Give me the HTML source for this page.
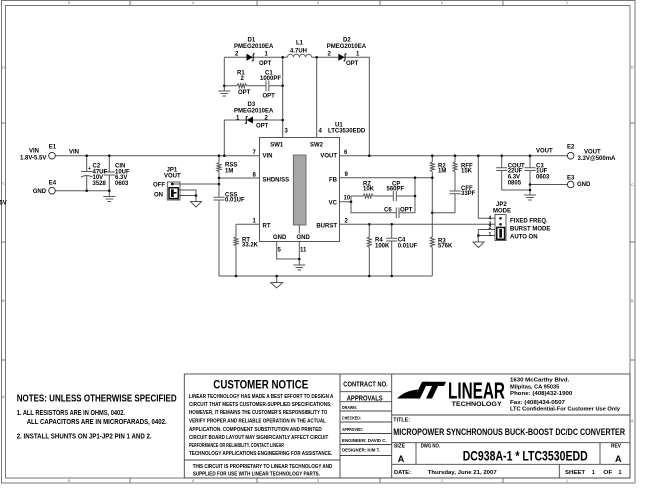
<!DOCTYPE html>
<html><head><meta charset="utf-8">
<style>
html,body{margin:0;padding:0;background:#fff;}
svg{display:block;}
text{font-family:"Liberation Sans",Arial,sans-serif;fill:#000;}
.s{font-size:6px;font-weight:bold;}
.t{font-size:3.6px;fill:#555;}
.b{font-weight:bold;}
.w{stroke:#555;stroke-width:1;fill:none;}
.k{stroke:#111;stroke-width:1.1;fill:none;}
</style></head><body>
<svg width="647" height="500" viewBox="0 0 647 500" xmlns="http://www.w3.org/2000/svg">
<rect width="647" height="500" fill="#fff"/>

<!-- border -->
<g stroke="#777" stroke-width="1" fill="none">
<rect x="1.5" y="0.5" width="633.5" height="482.5"/>
<rect x="5.5" y="5.5" width="624.5" height="472.5"/>
<path d="M130,0 V5.5 M257,0 V5.5 M380,0 V5.5 M503,0 V5.5 M130,478 V483 M257,478 V483 M380,478 V483 M503,478 V483 M1.5,123 H5.5 M1.5,242 H5.5 M1.5,360 H5.5 M630,123 H635 M630,242 H635 M630,360 H635"/>
</g>
<text class="t" x="68.3" y="4">5</text><text class="t" x="192" y="4">4</text><text class="t" x="317" y="4">3</text><text class="t" x="441" y="4">2</text><text class="t" x="566" y="4">1</text>
<text class="t" x="68.3" y="482">5</text><text class="t" x="192" y="482">4</text><text class="t" x="317" y="482">3</text><text class="t" x="441" y="482">2</text><text class="t" x="566" y="482">1</text>
<text class="t" x="2.3" y="68.5">D</text><text class="t" x="2.3" y="184.5">C</text><text class="t" x="2.3" y="302">B</text><text class="t" x="2.3" y="398">A</text>
<text class="t" x="631" y="68.5">D</text><text class="t" x="631" y="186">C</text><text class="t" x="631" y="302">B</text><text class="t" x="631" y="422">A</text>
<text class="s" x="-0.6" y="204.3">5V</text>

<!-- wires -->
<path class="w" d="
M55.3,155.7 H259.5
M55.3,190.7 H109.3
M86.7,155.7 V171.5 M86.7,175.6 V190.7
M81,171.5 H92.4
M109.3,155.7 V172 M109.3,175 V196
M103.8,172 H114.8 M103.8,175 H114.8
M103.3,196.5 H115.3 M105.5,199 H113.1 M107.5,201.5 H111.1
M172.3,184 H219
M174,190 H196 V201.5 M174,195.5 H196
M190.5,201.5 H201.5 L196,207 Z
M219,155.7 V162.5 M219,171.7 V197.3 M213.5,197.3 H224.5 M213.5,200 H224.5 M219,200 V276
M219,178 H259.5
M224.3,120 V155.7
M236,224.3 H259.5 M236,224.3 V236.7 M236,246 V276
M219,276 H432.3
M276.7,276 V282.5 M270.7,282.5 H282.7 L276.7,288 Z
M276.7,241.5 V259 H299.3 M299.3,241.5 V265
M293.3,265 H305.3 M295.5,267.5 H303.1 M297.5,270 H301.1
M299.3,225 V233.5
M282.7,57.3 V137.5 M316.7,57.3 V137.5
M224.3,57.3 H246.5 M253.3,57.3 H282.7
M224.3,57.3 V91
M218.3,91 H230.3 M220.5,93.5 H228.1 M222.5,96 H226.1
M282.7,57.3 H287.3
M287.3,57.3 a3.05,3 0 0 1 6.1,0 a3.05,3 0 0 1 6.1,0 a3.05,3 0 0 1 6.1,0 a3.05,3 0 0 1 6.1,0
M311.7,57.3 H338.3 M344.8,57.3 H369.3 V155.7
M224.3,120 H246.5 M253,120 H282.7
M224.3,85.7 H237 M246.7,85.7 H266 M268.8,85.7 H282.7
M266,80.5 V91 M268.8,80.5 V91
M339.5,155.7 H567.4
M339.5,177.7 H432.3
M339.5,201.7 H351 M351,196 V212.7 H396.3 M399,212.7 H415 V177.7
M351,196 H363 M373.3,196 H393.3 M396.3,196 H415
M393.3,191 V201 M396.3,191 V201
M396.3,207.5 V218 M399,207.5 V218
M339.5,224.3 H495
M369.3,224.3 V236.7 M369.3,247.3 V276
M391.7,224.3 V238.3 M391.7,241 V276 M386.2,238.3 H397.2 M386.2,241 H397.2
M432.3,155.7 V161.7 M432.3,171.7 V236.7 M432.3,247.3 V276
M432.3,212.7 H455 V193.7 M449.5,191 H460.5 M449.5,193.7 H460.5 M455,191 V171.7
M455,155.7 V161.7
M478.3,155.7 V218.3 H495
M478.3,229.5 H495 M478.3,235.5 H495 M478.3,229.5 V242
M473,242 H484 L478.5,247.5 Z
M501.7,155.7 V167.7 M501.7,170.5 V190 H530
M496.2,167.7 H507.2 M496.2,170.5 H507.2
M530,155.7 V167.7 M530,170.5 V195
M524.5,167.7 H535.5 M524.5,170.5 H535.5
M530,184.5 H567.4
M524,195 H536 M526.3,197.5 H533.7 M528.3,200 H531.7
"/>
<path class="w" d="M81,177 Q86.7,174 92.4,177"/>
<!-- resistors -->
<g class="w">
<polyline points="219,162.5 217,163.65 221,164.8 217,165.95 221,167.1 217,168.25 221,169.4 217,170.55 219,171.7"/>
<polyline points="236,236.7 234,237.86 238,239.03 234,240.19 238,241.35 234,242.51 238,243.68 234,244.84 236,246"/>
<polyline points="369.3,236.7 367.3,238.03 371.3,239.35 367.3,240.68 371.3,242 367.3,243.33 371.3,244.65 367.3,245.98 369.3,247.3"/>
<polyline points="432.3,161.7 430.3,162.95 434.3,164.2 430.3,165.45 434.3,166.7 430.3,167.95 434.3,169.2 430.3,170.45 432.3,171.7"/>
<polyline points="455,161.7 453,162.95 457,164.2 453,165.45 457,166.7 453,167.95 457,169.2 453,170.45 455,171.7"/>
<polyline points="432.3,236.7 430.3,238.03 434.3,239.35 430.3,240.68 434.3,242 430.3,243.33 434.3,244.65 430.3,245.98 432.3,247.3"/>
<polyline points="237,85.7 238.21,83.7 239.43,87.7 240.64,83.7 241.85,87.7 243.06,83.7 244.28,87.7 245.49,83.7 246.7,85.7"/>
<polyline points="363,196 364.29,194 365.58,198 366.86,194 368.15,198 369.44,194 370.73,198 372.01,194 373.3,196"/>
</g>
<!-- diodes -->
<path d="M246.5,53.8 L246.5,60.8 L253,57.3 Z" fill="#000"/>
<path class="k" d="M253.2,53.8 V60.8 M253.2,53.8 h1.5 M253.2,60.8 h-1.5"/>
<path d="M338.3,53.8 L338.3,60.8 L344.8,57.3 Z" fill="#000"/>
<path class="k" d="M345,53.8 V60.8 M345,53.8 h1.5 M345,60.8 h-1.5"/>
<path d="M253,116.5 L253,123.5 L246.5,120 Z" fill="#000"/>
<path class="k" d="M246.3,116.5 V123.5 M246.3,116.5 h1.5 M246.3,123.5 h-1.5"/>
<!-- terminals -->
<g fill="#fff" stroke="#222" stroke-width="0.9">
<circle cx="52" cy="155.7" r="3.3"/><circle cx="52" cy="190.7" r="3.3"/>
<circle cx="570.7" cy="155.7" r="3.3"/><circle cx="570.7" cy="184.5" r="3.3"/>
</g>
<!-- chip -->
<rect x="259.5" y="137.5" width="80" height="104" fill="none" stroke="#555" stroke-width="1"/>
<rect x="293.3" y="155" width="12.7" height="70" fill="#a6a6a6" stroke="#555" stroke-width="0.8"/>
<!-- JP1 -->
<rect x="167.3" y="182" width="12.7" height="18" fill="none" stroke="#333" stroke-width="0.8"/>
<rect x="168.3" y="187" width="10.7" height="12.3" fill="#111"/>
<rect x="169.8" y="188.5" width="7.7" height="9.3" fill="#fff"/>
<rect x="171" y="189.3" width="2.8" height="7.7" fill="#111"/>
<rect x="171" y="192" width="5.5" height="1.6" fill="#111"/>
<!-- JP2 -->
<rect x="495" y="214.5" width="11" height="26" fill="none" stroke="#333" stroke-width="0.8"/>
<rect x="496" y="226.7" width="9.3" height="13.3" fill="#111"/>
<rect x="497.5" y="228.2" width="6.3" height="10.3" fill="#fff"/>
<rect x="499.3" y="229" width="2.7" height="8.7" fill="#111"/>
<!-- junctions -->
<g fill="#111">
<circle cx="86.7" cy="155.7" r="1.3"/><circle cx="109.3" cy="155.7" r="1.3"/><circle cx="219" cy="155.7" r="1.3"/><circle cx="224.3" cy="155.7" r="1.3"/>
<circle cx="86.7" cy="190.7" r="1.3"/><circle cx="109.3" cy="190.7" r="1.3"/>
<circle cx="219" cy="178" r="1.3"/><circle cx="219" cy="184" r="1.3"/><circle cx="196" cy="195.5" r="1.3"/><circle cx="172.3" cy="184" r="1.4"/>
<circle cx="236" cy="276" r="1.3"/><circle cx="276.7" cy="276" r="1.3"/><circle cx="369.3" cy="276" r="1.3"/><circle cx="391.7" cy="276" r="1.3"/>
<circle cx="299.3" cy="259" r="1.3"/><circle cx="224.3" cy="85.7" r="1.3"/><circle cx="282.7" cy="85.7" r="1.3"/>
<circle cx="282.7" cy="57.3" r="1.3"/><circle cx="316.7" cy="57.3" r="1.3"/><circle cx="282.7" cy="120" r="1.3"/>
<circle cx="369.3" cy="155.7" r="1.3"/><circle cx="432.3" cy="155.7" r="1.3"/><circle cx="455" cy="155.7" r="1.3"/><circle cx="478.3" cy="155.7" r="1.3"/><circle cx="501.7" cy="155.7" r="1.3"/><circle cx="530" cy="155.7" r="1.3"/>
<circle cx="415" cy="177.7" r="1.3"/><circle cx="432.3" cy="177.7" r="1.3"/><circle cx="351" cy="201.7" r="1.3"/><circle cx="415" cy="196" r="1.3"/><circle cx="432.3" cy="212.7" r="1.3"/>
<circle cx="369.3" cy="224.3" r="1.3"/><circle cx="391.7" cy="224.3" r="1.3"/><circle cx="478.3" cy="235.5" r="1.3"/>
<circle cx="530" cy="184.5" r="1.3"/><circle cx="530" cy="190" r="1.3"/>
<circle cx="500.5" cy="218.3" r="1.3"/><circle cx="500.5" cy="224.3" r="1.3"/>
</g>

<!-- schematic labels -->
<text class="s" x="29" y="152.7">VIN</text>
<text class="s" x="20" y="159.3">1.8V-5.5V</text>
<text class="s" x="48.7" y="148.7">E1</text>
<text class="s" x="69" y="153.3">VIN</text>
<text class="s" x="48.7" y="184.5">E4</text>
<text class="s" x="32.7" y="192.8">GND</text>
<text class="s" x="88" y="170" style="font-size:5px">+</text>
<text class="s" x="92.5" y="167.7">C2</text><text class="s" x="92.5" y="173.3">47UF</text><text class="s" x="92.5" y="179">10V</text><text class="s" x="92.5" y="185">3528</text>
<text class="s" x="115" y="167.7">CIN</text><text class="s" x="115" y="173.3">10UF</text><text class="s" x="115" y="179">6.3V</text><text class="s" x="115" y="185">0603</text>
<text class="s" x="166.5" y="171.7">JP1</text><text class="s" x="164" y="177.7">VOUT</text>
<text class="s" x="153" y="186.7">OFF</text><text class="s" x="154" y="196.7">ON</text>
<text class="s" x="225" y="166.7">RSS</text><text class="s" x="225" y="172.3">1M</text>
<text class="s" x="225" y="196.7">CSS</text><text class="s" x="225" y="201.7">0.01UF</text>
<text class="s" x="242" y="241.3">RT</text><text class="s" x="242" y="246.7">33.2K</text>
<text class="s" x="252.5" y="154">7</text><text class="s" x="252.5" y="176.5">8</text><text class="s" x="252.5" y="222.5">1</text>
<text class="s" x="276.7" y="146.7" text-anchor="middle">SW1</text><text class="s" x="316.5" y="146.7" text-anchor="middle">SW2</text>
<text class="s" x="262.5" y="157.7">VIN</text><text class="s" x="337" y="157.7" text-anchor="end">VOUT</text>
<text class="s" x="262.5" y="181.7">SHDN/SS</text><text class="s" x="337" y="181.7" text-anchor="end">FB</text>
<text class="s" x="337" y="204.3" text-anchor="end">VC</text>
<text class="s" x="262.5" y="227.7">RT</text><text class="s" x="337" y="227.7" text-anchor="end">BURST</text>
<text class="s" x="273" y="239">GND</text><text class="s" x="296.5" y="239">GND</text>
<text class="s" x="277.5" y="251.5">5</text><text class="s" x="300" y="251.5">11</text>
<text class="s" x="284.5" y="132.7">3</text><text class="s" x="318.5" y="132.7">4</text>
<text class="s" x="335" y="126.7">U1</text><text class="s" x="328" y="132.7">LTC3530EDD</text>
<text class="s" x="344" y="154">6</text><text class="s" x="344.5" y="176">9</text><text class="s" x="343.5" y="199.5">10</text><text class="s" x="344.5" y="222.5">2</text>
<text class="s" x="247.5" y="41.7">D1</text><text class="s" x="234" y="48">PMEG2010EA</text>
<text class="s" x="235" y="55.7">2</text><text class="s" x="264.5" y="55.7">1</text><text class="s" x="259" y="65">OPT</text>
<text class="s" x="237" y="74.3">R1</text><text class="s" x="240.5" y="80">2</text><text class="s" x="238" y="94">OPT</text>
<text class="s" x="265" y="74.3">C1</text><text class="s" x="260" y="80">1000PF</text><text class="s" x="262.5" y="97.3">OPT</text>
<text class="s" x="296" y="44.3">L1</text><text class="s" x="290" y="52.7">4.7UH</text>
<text class="s" x="343" y="41.7">D2</text><text class="s" x="326.7" y="48">PMEG2010EA</text>
<text class="s" x="327.5" y="55.7">2</text><text class="s" x="356" y="55.7">1</text><text class="s" x="346" y="65">OPT</text>
<text class="s" x="247.5" y="106">D3</text><text class="s" x="234" y="112.3">PMEG2010EA</text>
<text class="s" x="236" y="119.3">1</text><text class="s" x="264.5" y="119.3">2</text><text class="s" x="256" y="127.7">OPT</text>
<text class="s" x="363" y="185.7">RZ</text><text class="s" x="363" y="190.7">10K</text>
<text class="s" x="392" y="185.7">CP</text><text class="s" x="386.5" y="190.7">560PF</text>
<text class="s" x="384" y="211.7">C6</text><text class="s" x="400" y="211.7">OPT</text>
<text class="s" x="375" y="241.7">R4</text><text class="s" x="375" y="247.3">100K</text>
<text class="s" x="397.7" y="241.7">C4</text><text class="s" x="397.7" y="247.3">0.01UF</text>
<text class="s" x="438" y="167.3">R2</text><text class="s" x="438" y="172.7">1M</text>
<text class="s" x="461" y="167.3">RFF</text><text class="s" x="461" y="172.7">15K</text>
<text class="s" x="461" y="190">CFF</text><text class="s" x="461" y="195">33PF</text>
<text class="s" x="438" y="242.3">R3</text><text class="s" x="438" y="247.7">576K</text>
<text class="s" x="496" y="206">JP2</text><text class="s" x="493" y="212.7">MODE</text>
<text class="s" x="488.5" y="219.5" style="font-size:5px">4</text><text class="s" x="488.5" y="225.3" style="font-size:5px">3</text><text class="s" x="488.5" y="229.2" style="font-size:5px">2</text><text class="s" x="488.5" y="236" style="font-size:5px">1</text>
<text class="s" x="510" y="222.3">FIXED FREQ.</text><text class="s" x="510" y="230.7">BURST MODE</text><text class="s" x="510" y="238.7">AUTO ON</text>
<text class="s" x="507.7" y="167.3">COUT</text><text class="s" x="507.7" y="172.7">22UF</text><text class="s" x="507.7" y="178.3">6.3V</text><text class="s" x="507.7" y="184.3">0805</text>
<text class="s" x="536" y="167.3">C3</text><text class="s" x="536" y="172.7">1UF</text><text class="s" x="536" y="178.3">0603</text>
<text class="s" x="536" y="152.7">VOUT</text>
<text class="s" x="567" y="148.3">E2</text><text class="s" x="584" y="153.3">VOUT</text><text class="s" x="577.5" y="160">3.3V@500mA</text>
<text class="s" x="567" y="179.3">E3</text><text class="s" x="577" y="186">GND</text>

<!-- notes -->
<text class="b" x="16.7" y="401.5" font-size="10.5" textLength="160" lengthAdjust="spacingAndGlyphs">NOTES:  UNLESS OTHERWISE SPECIFIED</text>
<text class="b" x="16.7" y="415" font-size="7" textLength="108.3" lengthAdjust="spacingAndGlyphs">1.  ALL RESISTORS ARE IN OHMS, 0402.</text>
<text class="b" x="26.7" y="424" font-size="7" textLength="140" lengthAdjust="spacingAndGlyphs">ALL CAPACITORS ARE IN MICROFARADS, 0402.</text>
<text class="b" x="16.7" y="438.7" font-size="7" textLength="135" lengthAdjust="spacingAndGlyphs">2.  INSTALL SHUNTS ON JP1-JP2 PIN 1 AND 2.</text>

<!-- customer notice & title block -->
<g stroke="#444" stroke-width="0.9" fill="none">
<rect x="184.3" y="374" width="445.7" height="104"/>
<path d="M184.3,460 H340 M340,374 V478 M391.7,374 V478
M340,391.7 H391.7 M340,401.7 H391.7 M340,411 H391.7 M340,422 H391.7 M340,433.5 H391.7 M340,444.5 H391.7 M340,455.5 H391.7
M391.7,415 H630 M391.7,442.7 H630 M391.7,464.3 H630
M416,442.7 V464.3 M600,442.7 V464.3 M559.3,464.3 V478"/>
</g>
<text class="b" x="213.3" y="388.5" font-size="11.5" textLength="95" lengthAdjust="spacingAndGlyphs">CUSTOMER NOTICE</text>
<g class="b" font-size="5">
<text x="189" y="397.8" textLength="144.3" lengthAdjust="spacingAndGlyphs">LINEAR TECHNOLOGY HAS MADE A BEST EFFORT TO DESIGN A</text>
<text x="189" y="405.9" textLength="142.7" lengthAdjust="spacingAndGlyphs">CIRCUIT THAT MEETS CUSTOMER-SUPPLIED SPECIFICATIONS;</text>
<text x="189" y="414.1" textLength="138.3" lengthAdjust="spacingAndGlyphs">HOWEVER, IT REMAINS THE CUSTOMER'S RESPONSIBILITY TO</text>
<text x="189" y="422.5" textLength="137" lengthAdjust="spacingAndGlyphs">VERIFY PROPER AND RELIABLE OPERATION IN THE ACTUAL</text>
<text x="189" y="430.8" textLength="132.7" lengthAdjust="spacingAndGlyphs">APPLICATION.  COMPONENT SUBSTITUTION AND PRINTED</text>
<text x="189" y="438.8" textLength="139.3" lengthAdjust="spacingAndGlyphs">CIRCUIT BOARD LAYOUT MAY SIGNIFICANTLY AFFECT CIRCUIT</text>
<text x="189" y="446.8" textLength="95" lengthAdjust="spacingAndGlyphs">PERFORMANCE OR RELIABILITY.  CONTACT LINEAR</text>
<text x="189" y="454.8" textLength="143.3" lengthAdjust="spacingAndGlyphs">TECHNOLOGY APPLICATIONS ENGINEERING FOR ASSISTANCE.</text>
<text x="192.7" y="467.8" textLength="139.6" lengthAdjust="spacingAndGlyphs">THIS CIRCUIT IS PROPRIETARY TO LINEAR TECHNOLOGY AND</text>
<text x="192.7" y="475.5" textLength="127.3" lengthAdjust="spacingAndGlyphs">SUPPLIED FOR USE WITH LINEAR TECHNOLOGY PARTS.</text>
</g>
<text class="b" x="343.3" y="386.5" font-size="7" textLength="44.4" lengthAdjust="spacingAndGlyphs">CONTRACT NO.</text>
<text class="b" x="346.7" y="400.3" font-size="7" textLength="36" lengthAdjust="spacingAndGlyphs">APPROVALS</text>
<g class="b" font-size="4.5">
<text x="342" y="409" textLength="15" lengthAdjust="spacingAndGlyphs">DRAWN:</text>
<text x="342" y="419.5" textLength="19" lengthAdjust="spacingAndGlyphs">CHECKED:</text>
<text x="342" y="431" textLength="21" lengthAdjust="spacingAndGlyphs">APPROVED:</text>
<text x="342" y="442" textLength="44.7" lengthAdjust="spacingAndGlyphs">ENGINEER: DAVID C.</text>
<text x="342" y="451.5" textLength="38" lengthAdjust="spacingAndGlyphs">DESIGNER: KIM T.</text>
</g>
<!-- logo -->
<path d="M397,398.5 Q405,390.5 418,389.5 L414.5,398.5 Z" fill="#000"/>
<path d="M414,398.5 L420,398.5 L428,381.7 L422,381.7 Z" fill="#000"/>
<path d="M425,381.7 L446,381.7 L444,386 L423,386 Z" fill="#000"/>
<path d="M432,386 L438,386 L432,398.5 L426,398.5 Z" fill="#000"/>
<text class="b" x="448" y="398.5" font-size="23" textLength="57" lengthAdjust="spacingAndGlyphs">LINEAR</text>
<text class="b" x="451.7" y="405.8" font-size="6.5" textLength="50" lengthAdjust="spacingAndGlyphs">TECHNOLOGY</text>
<g class="b" font-size="5.5">
<text x="510" y="381.6" textLength="59.3" lengthAdjust="spacingAndGlyphs">1630 McCarthy Blvd.</text>
<text x="510" y="388.3" textLength="49.3" lengthAdjust="spacingAndGlyphs">Milpitas, CA 95035</text>
<text x="510" y="395" textLength="62.3" lengthAdjust="spacingAndGlyphs">Phone: (408)432-1900</text>
<text x="510" y="404" textLength="55" lengthAdjust="spacingAndGlyphs">Fax: (408)434-0507</text>
<text x="510" y="410.6" textLength="110" lengthAdjust="spacingAndGlyphs">LTC Confidential-For Customer Use Only</text>
<text x="393.3" y="421.6" textLength="16.7" lengthAdjust="spacingAndGlyphs">TITLE:</text>
<text x="394" y="474" textLength="17" lengthAdjust="spacingAndGlyphs">DATE:</text>
<text x="427.7" y="474" textLength="69" lengthAdjust="spacingAndGlyphs">Thursday, June 21, 2007</text>
<text x="565" y="474" textLength="20" lengthAdjust="spacingAndGlyphs">SHEET</text>
<text x="591.7" y="474">1</text>
<text x="603.3" y="474" textLength="9" lengthAdjust="spacingAndGlyphs">OF</text>
<text x="618.5" y="474">1</text>
</g>
<text class="b" x="393.3" y="434.8" font-size="9" textLength="231.7" lengthAdjust="spacingAndGlyphs">MICROPOWER SYNCHRONOUS BUCK-BOOST DC/DC CONVERTER</text>
<g class="b" font-size="5">
<text x="394" y="447.5" textLength="11" lengthAdjust="spacingAndGlyphs">SIZE</text>
<text x="420.7" y="447.5" textLength="19.3" lengthAdjust="spacingAndGlyphs">DWG NO.</text>
<text x="611" y="447.5" textLength="10" lengthAdjust="spacingAndGlyphs">REV</text>
</g>
<text class="b" x="401" y="462" font-size="9" text-anchor="middle">A</text>
<text class="b" x="618.3" y="462" font-size="9" text-anchor="middle">A</text>
<text class="b" x="462.7" y="460.5" font-size="14" textLength="125" lengthAdjust="spacingAndGlyphs">DC938A-1 * LTC3530EDD</text>
</svg>
</body></html>
